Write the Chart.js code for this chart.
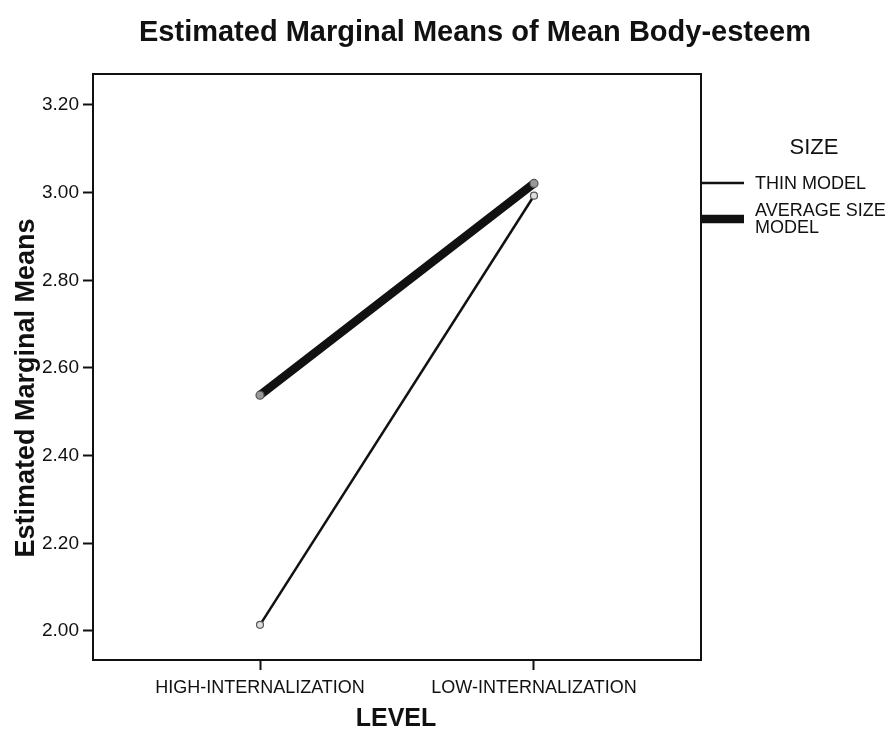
<!DOCTYPE html>
<html>
<head>
<meta charset="utf-8">
<script src="https://cdn.jsdelivr.net/npm/chart.js@4/dist/chart.umd.min.js"></script>
<style>
  html, body { margin: 0; padding: 0; background: #fff; }
  canvas { display: block; }
</style>
</head>
<body>
<canvas id="chart" width="895" height="731"></canvas>
<script>
// data
const levels = ['HIGH-INTERNALIZATION', 'LOW-INTERNALIZATION'];
const levelPos = [1, 2];
const thinModel = [2.014, 2.993];
const averageModel = [2.538, 3.021];
const yTicks = [2.0, 2.2, 2.4, 2.6, 2.8, 3.0, 3.2];
const sizeNames = ['THIN MODEL', 'AVERAGE SIZE MODEL'];

const FONT = '"Liberation Sans", Arial, sans-serif';

function points(values) {
    return values.map((v, i) => ({ x: levelPos[i], y: v }));
}

// titles, frame and legend drawn by hand
const decorations = {
    id: 'decorations',
    afterDraw(chart) {
        const ctx = chart.ctx;
        const area = chart.chartArea;
        ctx.save();
        ctx.fillStyle = '#111';
        ctx.textAlign = 'center';
        ctx.textBaseline = 'middle';

        ctx.font = 'bold 29px ' + FONT;
        ctx.fillText('Estimated Marginal Means of Mean Body-esteem', 475, 33, 694);

        ctx.font = 'bold 25px ' + FONT;
        ctx.fillText('LEVEL', 396, 719);

        ctx.save();
        ctx.translate(27, 388);
        ctx.rotate(-Math.PI / 2);
        ctx.font = 'bold 27px ' + FONT;
        ctx.fillText('Estimated Marginal Means', 0, 0);
        ctx.restore();

        // frame
        ctx.strokeStyle = '#111';
        ctx.lineWidth = 2;
        ctx.strokeRect(area.left, area.top, area.right - area.left, area.bottom - area.top);

        // legend
        ctx.font = '22px ' + FONT;
        ctx.fillText('SIZE', 814, 148);

        const ds = chart.data.datasets;
        ctx.lineCap = 'butt';
        ctx.lineWidth = ds[0].borderWidth;
        ctx.beginPath();
        ctx.moveTo(area.right, 183);
        ctx.lineTo(area.right + 43, 183);
        ctx.stroke();
        ctx.lineWidth = ds[1].borderWidth;
        ctx.beginPath();
        ctx.moveTo(area.right, 219);
        ctx.lineTo(area.right + 43, 219);
        ctx.stroke();

        ctx.textAlign = 'left';
        ctx.font = '18px ' + FONT;
        ctx.fillText(sizeNames[0], 755, 184);
        ctx.fillText('AVERAGE SIZE', 755, 211);
        ctx.fillText('MODEL', 755, 228);
        ctx.restore();
    }
};

new Chart(document.getElementById('chart'), {
    type: 'line',
    data: {
        datasets: [
            {
                label: sizeNames[0],
                data: points(thinModel),
                borderColor: '#111',
                borderWidth: 2.5,
                pointRadius: 3.5,
                pointBorderColor: '#555',
                pointBackgroundColor: '#ddd',
                pointBorderWidth: 1.2
            },
            {
                label: sizeNames[1],
                data: points(averageModel),
                borderColor: '#111',
                borderWidth: 8.5,
                pointRadius: 4,
                pointBorderColor: '#555',
                pointBackgroundColor: '#999',
                pointBorderWidth: 1.2
            }
        ]
    },
    options: {
        responsive: false,
        animation: false,
        devicePixelRatio: 1,
        layout: { padding: { top: 74, right: 194, bottom: 0, left: 0 } },
        plugins: {
            legend: { display: false },
            tooltip: { enabled: false }
        },
        scales: {
            x: {
                type: 'linear',
                min: 0.3905,
                max: 2.6095,
                afterBuildTicks: s => { s.ticks = levelPos.map(v => ({ value: v })); },
                afterFit: s => { s.height = 71; },
                grid: { drawOnChartArea: false, tickLength: 10, tickWidth: 2, tickColor: '#111' },
                border: { display: true, color: '#111', width: 2 },
                ticks: {
                    color: '#111',
                    padding: 7,
                    maxRotation: 0,
                    font: { family: FONT, size: 18 },
                    callback: v => levels[levelPos.indexOf(v)]
                }
            },
            y: {
                min: 1.9338,
                max: 3.2707,
                afterBuildTicks: s => { s.ticks = yTicks.map(v => ({ value: v })); },
                afterFit: s => { s.width = 93; },
                grid: { drawOnChartArea: false, tickLength: 10, tickWidth: 2, tickColor: '#111' },
                border: { display: true, color: '#111', width: 2 },
                ticks: {
                    color: '#111',
                    padding: 4,
                    font: { family: FONT, size: 19 },
                    callback: v => v.toFixed(2)
                }
            }
        }
    },
    plugins: [decorations]
});
</script>
</body>
</html>
